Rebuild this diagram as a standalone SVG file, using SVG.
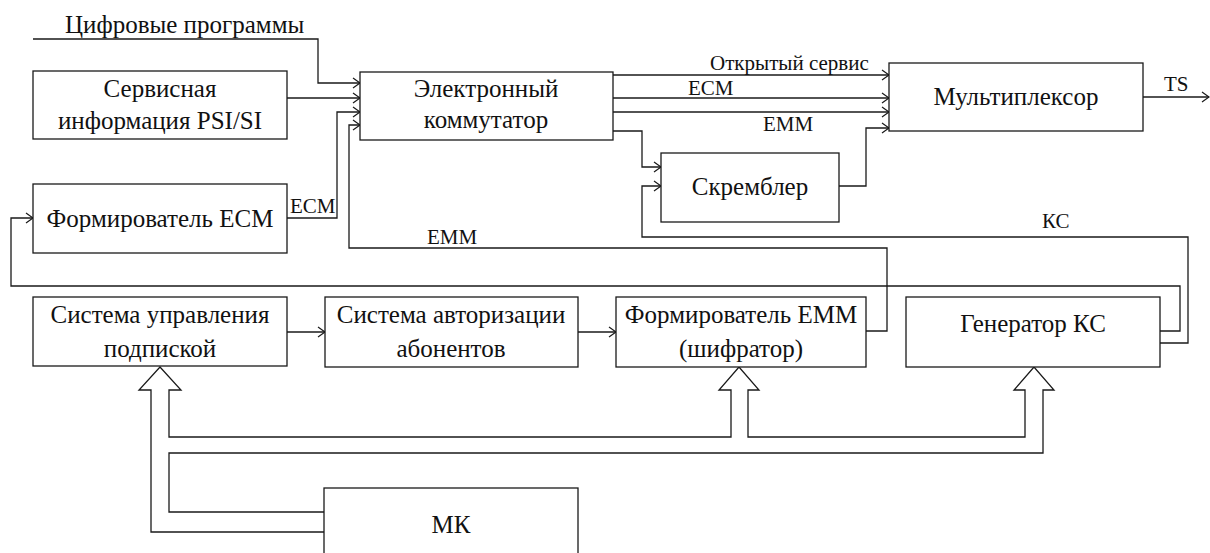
<svg xmlns="http://www.w3.org/2000/svg" width="1210" height="553" viewBox="0 0 1210 553">
  <style>
    text { font-family: 'Liberation Serif', 'Times New Roman', serif; fill: #111; }
    .box { fill: #fff; stroke: #1a1a1a; stroke-width: 1.3; }
    .t { font-size: 25px; text-anchor: middle; }
    .lbl { font-size: 21px; }
    .ln { fill: none; stroke: #1a1a1a; stroke-width: 1.3; }
    .ar { marker-end: url(#open); }
  </style>
  <defs>
    <marker id="open" markerUnits="userSpaceOnUse" markerWidth="10" markerHeight="12" refX="8" refY="6" orient="auto">
      <path d="M1,1 L8,6 L1,11" fill="none" stroke="#1a1a1a" stroke-width="1.2"/>
    </marker>
  </defs>

  <g id="connectors">
    <!-- digital programs input -->
    <path class="ln ar" d="M33,39 H318 V83 H360"/>
    <!-- PSI/SI to switch -->
    <path class="ln ar" d="M287,98 H360"/>
    <!-- ECM generator to switch -->
    <path class="ln ar" d="M287,218 H337 V112 H360"/>
    <!-- EMM generator to switch -->
    <path class="ln ar" d="M866,331 H887 V248 H349 V125 H360"/>
    <!-- switch outputs to multiplexer -->
    <path class="ln ar" d="M613,75 H889"/>
    <path class="ln ar" d="M613,98 H889"/>
    <path class="ln ar" d="M613,112 H889"/>
    <!-- switch to scrambler -->
    <path class="ln ar" d="M613,131 H642 V167 H661"/>
    <!-- scrambler to multiplexer -->
    <path class="ln ar" d="M839,186 H866 V128 H889"/>
    <!-- TS output -->
    <path class="ln ar" d="M1143,97 H1209"/>
    <!-- control word to scrambler -->
    <path class="ln ar" d="M1160,343 H1188 V237 H642 V186 H661"/>
    <!-- control word to ECM generator -->
    <path class="ln ar" d="M1160,331 H1180 V286 H11 V218 H33"/>
    <!-- subscription chain -->
    <path class="ln ar" d="M287,332 H325"/>
    <path class="ln ar" d="M578,332 H616"/>
    <!-- MK bus (hollow arrows) -->
    <path class="ln" d="M324,532 H151 V390 H139 L160,367 L181,390 H169 V437 H731 V390 H719 L739,367 L759,390 H748 V437 H1025 V390 H1014 L1034,367 L1054,390 H1043 V453 H169 V512 H324"/>

    <text class="lbl" x="65" y="33" style="font-size:25px">Цифровые программы</text>
    <text class="lbl" x="710" y="70">Открытый сервис</text>
    <text class="lbl" x="688" y="95">ECM</text>
    <text class="lbl" x="763" y="131">EMM</text>
    <text class="lbl" x="1164" y="91">TS</text>
    <text class="lbl" x="1042" y="228">КС</text>
    <text class="lbl" x="290" y="213">ECM</text>
    <text class="lbl" x="427" y="244">EMM</text>
  </g>

  <g id="psi-si">
    <rect class="box" x="33" y="71" width="254" height="68"/>
    <text class="t" x="160" y="97">Сервисная</text>
    <text class="t" x="160" y="129">информация PSI/SI</text>
  </g>
  <g id="switch">
    <rect class="box" x="360" y="72" width="253" height="68"/>
    <text class="t" x="486" y="97">Электронный</text>
    <text class="t" x="486" y="128">коммутатор</text>
  </g>
  <g id="mux">
    <rect class="box" x="889" y="63" width="254" height="68"/>
    <text class="t" x="1016" y="105">Мультиплексор</text>
  </g>
  <g id="scrambler">
    <rect class="box" x="661" y="153" width="178" height="69"/>
    <text class="t" x="750" y="195">Скремблер</text>
  </g>
  <g id="ecm-gen">
    <rect class="box" x="33" y="184" width="254" height="69"/>
    <text class="t" x="160" y="227">Формирователь ECM</text>
  </g>
  <g id="sms">
    <rect class="box" x="33" y="297" width="254" height="69"/>
    <text class="t" x="160" y="323">Система управления</text>
    <text class="t" x="160" y="357">подпиской</text>
  </g>
  <g id="sas">
    <rect class="box" x="325" y="297" width="253" height="70"/>
    <text class="t" x="451" y="323">Система авторизации</text>
    <text class="t" x="451" y="357">абонентов</text>
  </g>
  <g id="emm-gen">
    <rect class="box" x="616" y="297" width="250" height="70"/>
    <text class="t" x="741" y="323">Формирователь EMM</text>
    <text class="t" x="741" y="357">(шифратор)</text>
  </g>
  <g id="cw-gen">
    <rect class="box" x="906" y="297" width="254" height="70"/>
    <text class="t" x="1033" y="332">Генератор КС</text>
  </g>
  <g id="mk">
    <rect class="box" x="324" y="488" width="254" height="80"/>
    <text class="t" x="451" y="533">МК</text>
  </g>
</svg>
